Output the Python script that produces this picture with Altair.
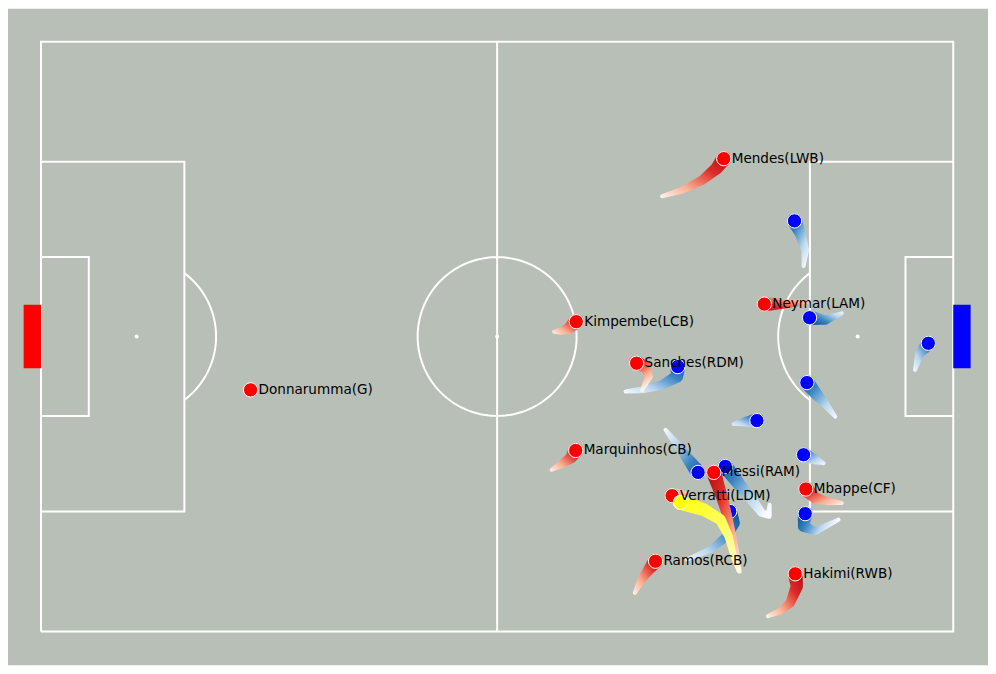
import altair as alt
import numpy as np
import pandas as pd

# ---------------- data (metres, origin bottom-left of pitch) ----------------
red_names = ["Donnarumma(G)", "Mendes(LWB)", "Kimpembe(LCB)", "Sanches(RDM)",
             "Neymar(LAM)", "Marquinhos(CB)", "Messi(RAM)", "Verratti(LDM)",
             "Mbappe(CF)", "Ramos(RCB)", "Hakimi(RWB)"]
# trails: first entry = current position, then older positions
red_trail_x = [
    [24.12],
    [78.58, 77.74, 76.08, 73.79, 71.49],
    [61.61, 60.77, 59.85, 59.05],
    [68.55, 69.58, 69.96, 69.19],
    [83.25, 85.47, 88.34],
    [61.54, 60.97, 59.82, 58.78],
    [77.43, 77.89, 78.46, 79.04, 79.61, 80.07, 80.42],
    [72.64, 73.41, 74.33],
    [88.03, 89.11, 90.64, 92.17],
    [70.73, 69.96, 69.01, 68.35],
    [86.81, 87.00, 86.24, 85.09, 83.67],
]
red_trail_y = [
    [27.85],
    [54.51, 53.36, 52.01, 50.86, 50.17],
    [35.71, 34.95, 34.64, 34.56],
    [30.92, 30.53, 29.38, 27.85],
    [37.74, 37.74, 37.97],
    [20.86, 19.99, 19.22, 18.64],
    [18.33, 16.92, 15.19, 13.12, 10.82, 8.86, 6.90],
    [15.65, 15.88, 15.88],
    [16.42, 15.38, 14.99, 14.81],
    [8.09, 7.13, 5.79, 4.45],
    [6.64, 5.21, 3.30, 2.34, 1.76],
]
blue_trail_x = [
    [86.73, 87.39, 87.96, 87.77],
    [88.46, 90.26, 92.17],
    [102.13, 101.17, 100.60],
    [88.15, 89.49, 90.41, 91.41],
    [82.40, 80.99, 79.73],
    [73.29, 73.21, 71.49, 69.19, 67.28],
    [87.77, 89.11, 90.07],
    [87.96, 87.77, 89.11, 91.79],
    [75.63, 73.75, 71.88],
    [78.77, 80.30, 81.79, 82.94, 83.75, 83.86],
    [79.27, 79.73, 78.96, 77.05, 74.36],
]
blue_trail_y = [
    [47.33, 45.91, 43.96, 42.12],
    [36.17, 35.90, 36.67],
    [33.22, 32.07, 30.15],
    [28.69, 27.08, 26.01, 24.77],
    [24.31, 24.16, 23.93],
    [30.53, 29.38, 28.42, 27.85, 27.65],
    [20.37, 19.79, 19.41],
    [13.58, 12.12, 11.54, 12.89],
    [18.33, 20.83, 23.24],
    [19.02, 17.03, 15.19, 13.69, 13.35, 14.61],
    [13.84, 12.51, 10.97, 9.44, 8.29],
]
ball_trail_x = [73.60, 76.28, 78.20, 79.15, 79.73, 80.30]
ball_trail_y = [14.88, 14.04, 12.89, 10.97, 8.66, 6.94]

# ---------------- styling ----------------
PITCH_BG = "#b8bfb6"
W, H = 982, 658
x_scale = alt.Scale(domain=[-3.8, 109.0], nice=False, zero=False)
y_scale = alt.Scale(domain=[-3.91, 71.8], nice=False, zero=False)
size_scale = alt.Scale(domain=[0, 1], range=[15, 4])

RED_STOPS = [(0.0, "#fff5f0"), (0.3, "#fcae91"), (0.65, "#de2a26"), (1.0, "#a00d14")]
BLUE_STOPS = [(0.0, "#f7fbff"), (0.3, "#bdd7ee"), (0.65, "#3a84c2"), (1.0, "#0a4a90")]
YELLOW_STOPS = [(0.0, "#fffbe0"), (0.4, "#ffff66"), (1.0, "#ffff00")]


def X():
    return alt.X("x:Q", scale=x_scale, axis=None)


def Y():
    return alt.Y("y:Q", scale=y_scale, axis=None)


# ---------------- pitch ----------------
shapes = []


def add(name, xs, ys):
    for i, (a, b) in enumerate(zip(xs, ys)):
        shapes.append({"shape": name, "i": i, "x": float(a), "y": float(b)})


L, Wd = 105.0, 68.0
add("outer", [0, L, L, 0, 0], [0, 0, Wd, Wd, 0])
add("half", [L / 2, L / 2], [0, Wd])
p0, p1 = Wd / 2 - 20.16, Wd / 2 + 20.16
g0, g1 = Wd / 2 - 9.16, Wd / 2 + 9.16
add("pa_l", [0, 16.5, 16.5, 0], [p0, p0, p1, p1])
add("pa_r", [L, L - 16.5, L - 16.5, L], [p0, p0, p1, p1])
add("ga_l", [0, 5.5, 5.5, 0], [g0, g0, g1, g1])
add("ga_r", [L, L - 5.5, L - 5.5, L], [g0, g0, g1, g1])
t = np.linspace(0, 2 * np.pi, 181)
add("cc", L / 2 + 9.15 * np.cos(t), Wd / 2 + 9.15 * np.sin(t))
a = np.arccos(5.5 / 9.15)
t = np.linspace(-a, a, 61)
add("arc_l", 11 + 9.15 * np.cos(t), Wd / 2 + 9.15 * np.sin(t))
add("arc_r", L - 11 - 9.15 * np.cos(t), Wd / 2 + 9.15 * np.sin(t))

lines = alt.Chart(pd.DataFrame(shapes)).mark_line(
    color="white", strokeWidth=2, strokeJoin="miter"
).encode(x=X(), y=Y(), detail="shape:N", order="i:Q")

spots = alt.Chart(pd.DataFrame({"x": [11, L / 2, L - 11], "y": [Wd / 2] * 3})).mark_circle(
    color="white", size=16, opacity=1
).encode(x=X(), y=Y())

goals_df = pd.DataFrame({
    "x": [-2.0, L], "x2": [0.0, L + 2.0],
    "y": [Wd / 2 - 3.66] * 2, "y2": [Wd / 2 + 3.66] * 2,
    "c": ["#ff0000", "#0000ff"],
})
goals = alt.Chart(goals_df).mark_rect(opacity=1).encode(
    x=X(), x2="x2:Q", y=Y(), y2="y2:Q", color=alt.Color("c:N", scale=None)
)


# ---------------- trails ----------------
def trail_layer(xs, ys, stops):
    n = len(xs)
    df = pd.DataFrame({"x": xs, "y": ys, "i": list(range(n)),
                       "t": [k / (n - 1) for k in range(n)]})
    minx, maxx = min(xs), max(xs)
    miny, maxy = min(ys), max(ys)

    def nx(v):
        return 0.5 if maxx - minx < 1e-6 else (v - minx) / (maxx - minx)

    def ny(v):
        return 0.5 if maxy - miny < 1e-6 else (maxy - v) / (maxy - miny)

    grad = alt.LinearGradient(
        gradient="linear",
        stops=[alt.GradientStop(color=c, offset=o) for o, c in stops],
        x1=nx(xs[-1]), y1=ny(ys[-1]), x2=nx(xs[0]), y2=ny(ys[0]),
    )
    return alt.Chart(df).mark_trail(color=grad, opacity=1).encode(
        x=X(), y=Y(), order="i:Q",
        size=alt.Size("t:Q", scale=size_scale, legend=None),
    )


layers = [lines, spots, goals]

for xs, ys in zip(blue_trail_x, blue_trail_y):
    if len(xs) > 1:
        layers.append(trail_layer(xs, ys, BLUE_STOPS))

blue_heads = pd.DataFrame({"x": [v[0] for v in blue_trail_x],
                           "y": [v[0] for v in blue_trail_y]})
layers.append(alt.Chart(blue_heads).mark_circle(
    color="#0000ff", size=205, opacity=1, stroke="white", strokeWidth=1
).encode(x=X(), y=Y()))

for xs, ys in zip(red_trail_x, red_trail_y):
    if len(xs) > 1:
        layers.append(trail_layer(xs, ys, RED_STOPS))

red_heads = pd.DataFrame({"x": [v[0] for v in red_trail_x],
                          "y": [v[0] for v in red_trail_y],
                          "name": red_names})
layers.append(alt.Chart(red_heads).mark_circle(
    color="#ff0000", size=205, opacity=1, stroke="white", strokeWidth=1
).encode(x=X(), y=Y()))

layers.append(trail_layer(ball_trail_x, ball_trail_y, YELLOW_STOPS))
ball_head = pd.DataFrame({"x": [ball_trail_x[0]], "y": [ball_trail_y[0]]})
layers.append(alt.Chart(ball_head).mark_circle(
    color="#ffff00", size=205, opacity=1, stroke="white", strokeWidth=1
).encode(x=X(), y=Y()))

layers.append(alt.Chart(red_heads).mark_text(
    align="left", baseline="middle", dx=8, fontSize=13.6,
    font="DejaVu Sans", color="black"
).encode(x=X(), y=Y(), text="name:N"))

chart = alt.layer(*layers).properties(
    width=W, height=H, padding=0, autosize=alt.AutoSizeParams(type="none"),
    background="white",
).configure_view(fill=PITCH_BG, strokeWidth=0)

chart.save("out.html", embed_options={"renderer": "svg", "actions": False})
